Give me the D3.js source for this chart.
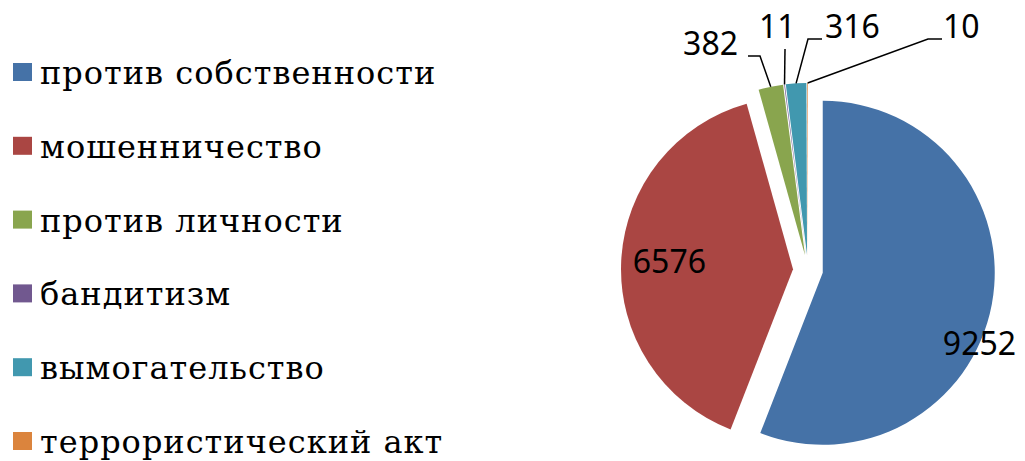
<!DOCTYPE html>
<html>
<head>
<meta charset="utf-8">
<script src="https://cdn.jsdelivr.net/npm/d3@7"></script>
<style>
body { margin: 0; background: #fff; }
</style>
</head>
<body>
<div id="chart"></div>
<script>
// data
const categories = ['против собственности', 'мошенничество', 'против личности',
                    'бандитизм', 'вымогательство', 'террористический акт'];
const values = [9252, 6576, 382, 11, 316, 10];
const colors = ['#4572A7', '#AA4643', '#89A54E', '#71588F', '#4198AF', '#DB843D'];

const width = 1025, height = 461;
const cx = 808, cy = 270, radius = 172, explode = 15;

const svg = d3.select('#chart')
              .append('svg')
              .attr('width', width)
              .attr('height', height);

// legend
const legendY = d3.scalePoint().domain(categories).range([84, 453]);

const legend = svg.append('g').attr('class', 'legend');
const items = legend.selectAll('g')
                    .data(categories)
                    .enter()
                    .append('g')
                    .attr('transform', d => 'translate(0,' + legendY(d) + ')');

items.append('rect')
     .attr('x', 13)
     .attr('y', -21)
     .attr('width', 19)
     .attr('height', 18)
     .style('fill', (d, i) => colors[i]);

// spaced-out liberation serif loses its cyrillic here, dejavu serif keeps it
items.append('text')
     .attr('x', 40)
     .attr('y', 0)
     .style('font-family', "'DejaVu Serif'")
     .style('font-size', '32px')
     .style('letter-spacing', '1px')
     .style('fill', '#000')
     .text(d => d);

// pie, clockwise from 12 o'clock, every slice pulled out along its middle
const pie = d3.pie().sort(null).value(d => d);
const arcs = pie(values);
const arc = d3.arc().innerRadius(0).outerRadius(radius);

const polar = (a, r) => [Math.sin(a) * r, -Math.cos(a) * r];
const mid = d => (d.startAngle + d.endAngle) / 2;

const pieG = svg.append('g').attr('transform', 'translate(' + cx + ',' + cy + ')');

pieG.selectAll('path')
    .data(arcs)
    .enter()
    .append('path')
    .attr('d', arc)
    .attr('transform', d => {
        let p = polar(mid(d), explode);
        return 'translate(' + p[0] + ',' + p[1] + ')';
    })
    .style('fill', (d, i) => colors[i]);

const labelFont = "'Noto Sans'";

// big slices: labels inside (angle shift in degrees, radius factor)
const insideLabels = [[13.7, 1.0], [0.5, 0.72]];
insideLabels.forEach((l, i) => {
    let d = arcs[i];
    let o = polar(mid(d), explode);
    let p = polar(mid(d) + l[0] * Math.PI / 180, radius * l[1]);
    pieG.append('text')
        .attr('x', o[0] + p[0])
        .attr('y', o[1] + p[1])
        .attr('dy', '0.35em')
        .style('text-anchor', 'middle')
        .style('font-family', labelFont)
        .style('font-size', '32px')
        .style('fill', '#000')
        .text(values[i]);
});

// small slices: labels above with leader lines (label position relative to centre)
const outsideLabels = [
    {i: 2, tx: -70, ty: -215, anchor: 'end',   elbow: [-48, -214], tail: [-60, -214]},
    {i: 3, tx: -49, ty: -232, anchor: 'start', elbow: [-23, -221], tail: null},
    {i: 4, tx: 17,  ty: -232, anchor: 'start', elbow: [0, -231],   tail: [14, -231]},
    {i: 5, tx: 135, ty: -232, anchor: 'start', elbow: [120, -231], tail: [134, -231]}
];

outsideLabels.forEach(l => {
    let d = arcs[l.i];
    let o = polar(mid(d), explode);
    let p = polar(mid(d), radius);
    let pts = [[o[0] + p[0], o[1] + p[1]], l.elbow];
    if (l.tail) pts.push(l.tail);
    pieG.append('path')
        .attr('d', d3.line()(pts))
        .style('fill', 'none')
        .style('stroke', '#000')
        .style('stroke-width', 1.5);
    pieG.append('text')
        .attr('x', l.tx)
        .attr('y', l.ty)
        .style('text-anchor', l.anchor)
        .style('font-family', labelFont)
        .style('font-size', '32px')
        .style('fill', '#000')
        .text(values[l.i]);
});
</script>
</body>
</html>
